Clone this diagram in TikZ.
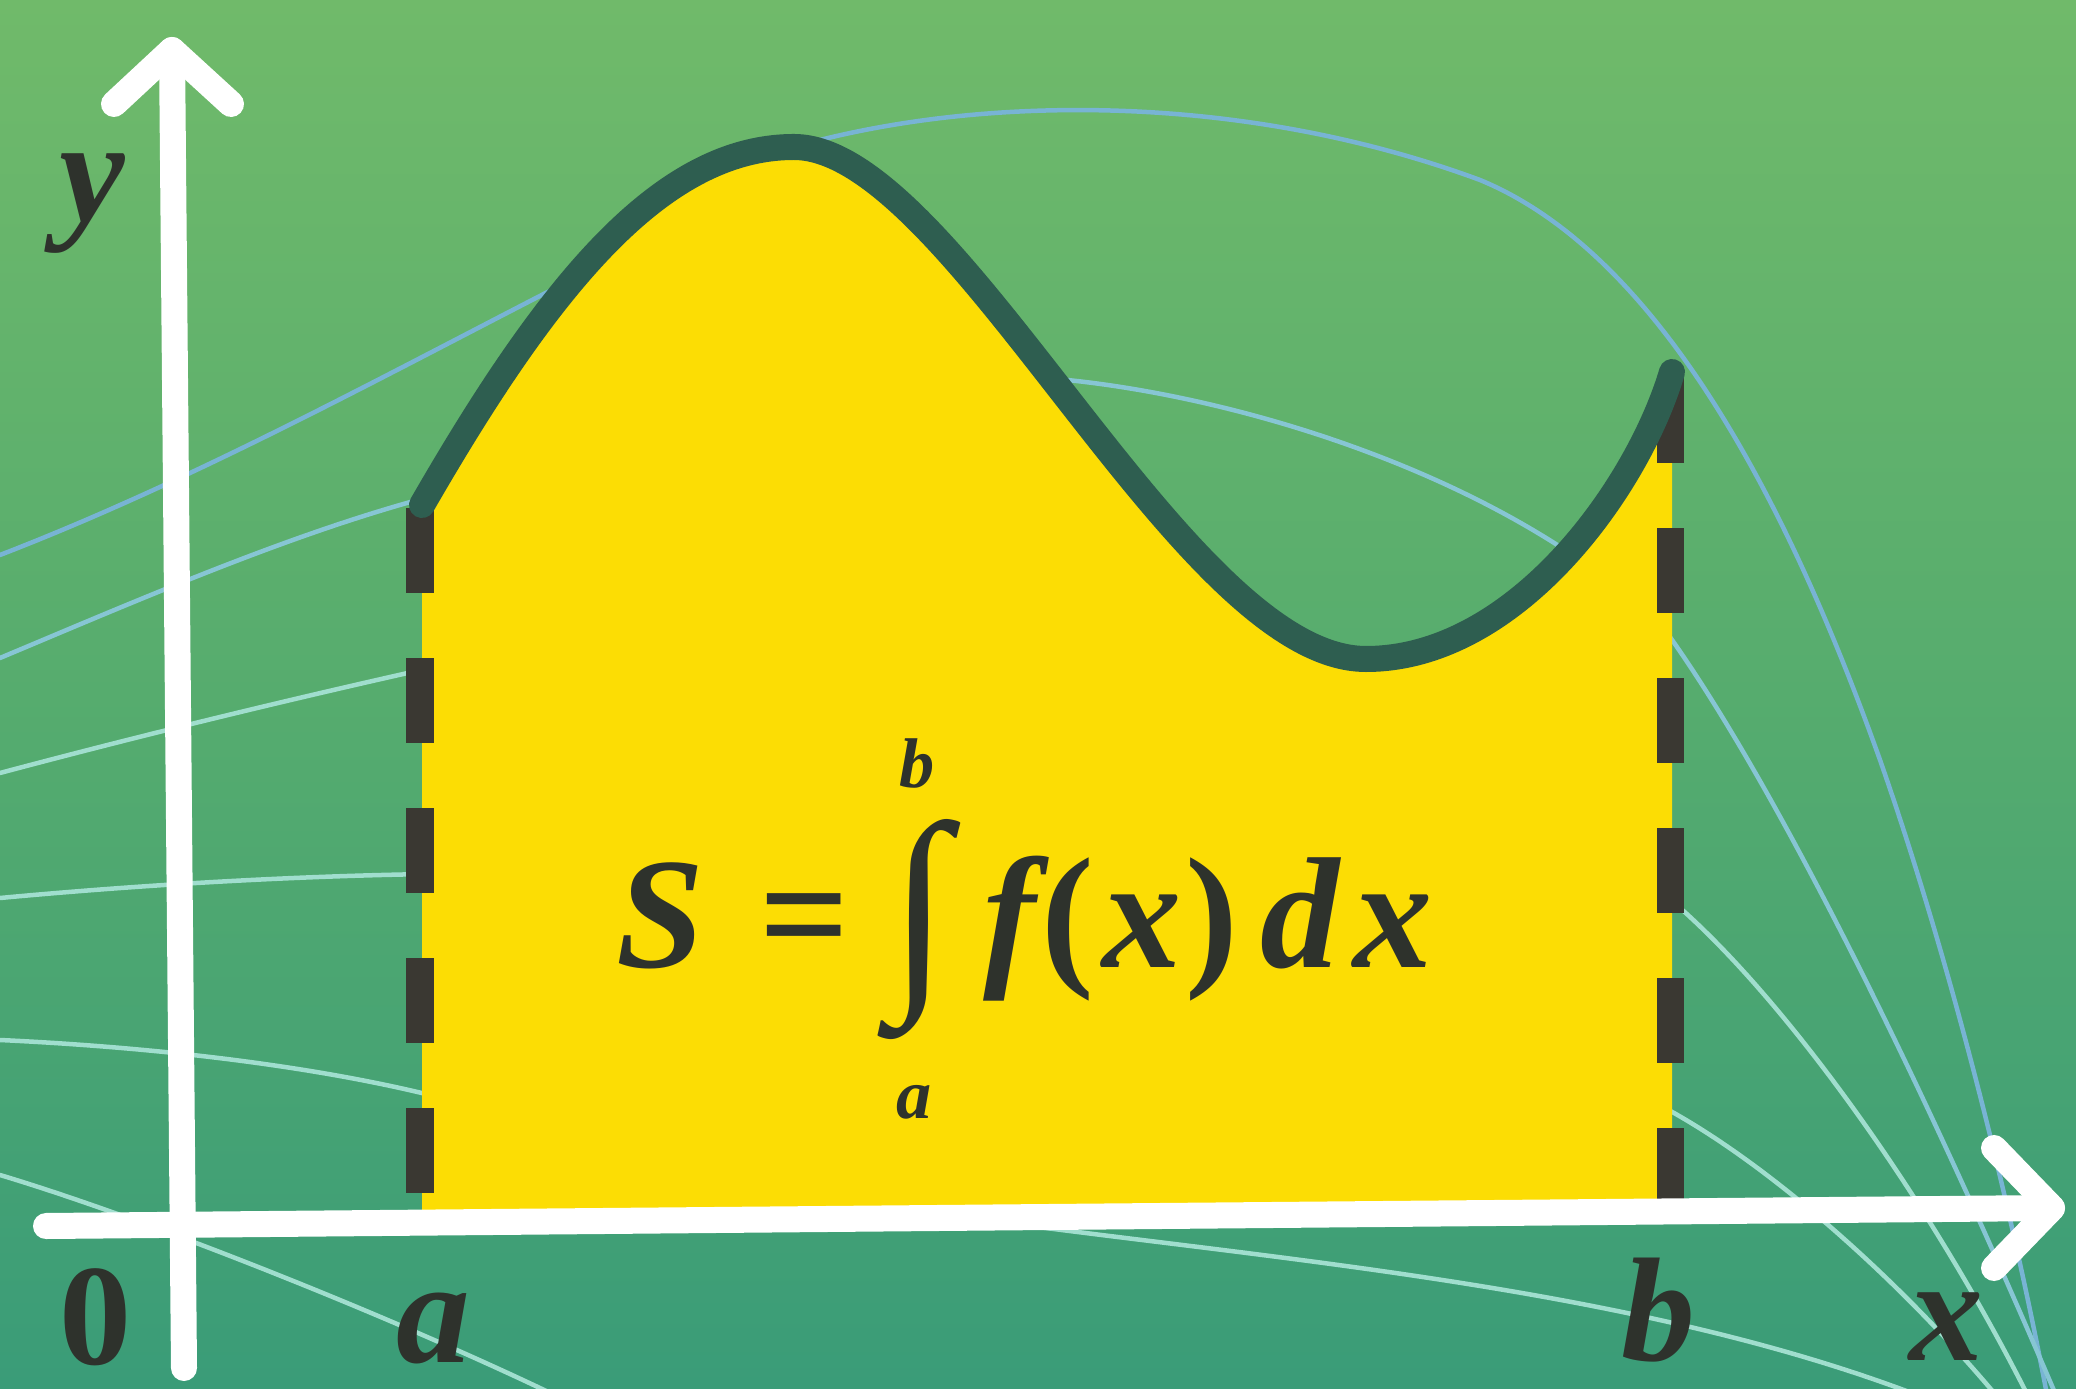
\documentclass[tikz,border=0pt]{standalone}
\usepackage{fontspec}
\setmainfont{Liberation Serif}
\usepackage{graphicx}
\definecolor{bgtop}{RGB}{112,186,106}
\definecolor{bgmid}{RGB}{86,172,110}
\definecolor{bgbot}{RGB}{58,156,120}
\definecolor{lineA}{RGB}{120,180,212}
\definecolor{lineB}{RGB}{135,198,212}
\definecolor{lineC}{RGB}{160,222,206}
\definecolor{areacol}{RGB}{252,221,4}
\definecolor{curvecol}{RGB}{46,94,80}
\definecolor{dashcol}{RGB}{58,56,50}
\definecolor{inkcol}{RGB}{46,50,44}
\tikzset{
  axisline/.style={line width=0.26cm, draw=white, line cap=round, line join=round},
  fcurve/.style={line width=0.26cm, draw=curvecol, line cap=round, line join=round},
  bounddash/.style={line width=0.27cm, draw=dashcol, dash pattern=on 0.85cm off 0.65cm},
  bgcurve/.style={line width=0.045cm, line cap=round},
  lab/.style={text=inkcol, font=\fontsize{42pt}{42pt}\selectfont\bfseries\itshape, inner sep=0pt, anchor=base},
  zerolab/.style={text=inkcol, font=\fontsize{41pt}{41pt}\selectfont\bfseries, inner sep=0pt, anchor=base},
  fml/.style={text=inkcol, font=\fontsize{45pt}{45pt}\selectfont\bfseries\itshape, inner sep=0pt, anchor=base},
  fmlup/.style={text=inkcol, font=\fontsize{45pt}{45pt}\selectfont\bfseries, inner sep=0pt, anchor=base},
  limlab/.style={text=inkcol, font=\fontsize{20pt}{20pt}\selectfont\bfseries\itshape, inner sep=0pt, anchor=base},
}
\begin{document}
\begin{tikzpicture}[x=0.01cm,y=-0.01cm]
\useasboundingbox (0,0) rectangle (2076,1389);
% background
\shade[top color=bgtop, bottom color=bgbot, middle color=bgmid] (0,0) rectangle (2076,1389);

% family of thin background curves (only their visible parts)
\draw[bgcurve, lineA] (0,555) .. controls (220,470) and (430,350) .. (640,245);
\draw[bgcurve, lineA] (820,140) .. controls (1000,95) and (1250,95) .. (1480,180)
   .. controls (1650,250) and (1780,480) .. (1880,760)
   .. controls (1950,960) and (2010,1200) .. (2048,1400);
\draw[bgcurve, lineB] (0,658) .. controls (150,595) and (300,530) .. (440,494);
\draw[bgcurve, lineB] (1045,378) .. controls (1200,390) and (1420,450) .. (1580,560);
\draw[bgcurve, lineB] (1665,630) .. controls (1780,790) and (1930,1100) .. (2058,1400);
\draw[bgcurve, lineC] (0,773) .. controls (150,733) and (300,697) .. (430,668);
\draw[bgcurve, lineC] (1665,895) .. controls (1780,990) and (1930,1200) .. (2030,1400);
\draw[bgcurve, lineC] (0,898) .. controls (150,884) and (300,876) .. (430,874);
\draw[bgcurve, lineC] (1665,1108) .. controls (1770,1165) and (1900,1280) .. (2000,1400);
\draw[bgcurve, lineC] (0,1040) .. controls (170,1048) and (320,1068) .. (430,1095);
\draw[bgcurve, lineC] (1000,1222) .. controls (1300,1262) and (1650,1290) .. (1930,1400);
\draw[bgcurve, lineC] (0,1175) .. controls (150,1220) and (400,1320) .. (565,1400);

% area under the curve
\fill[areacol] (422,505) .. controls (547,288) and (660,147) .. (794,147)
   .. controls (954,147) and (1182,659) .. (1366,659)
   .. controls (1516,659) and (1638,487) .. (1672,372)
   -- (1672,1212) -- (422,1220) -- cycle;

% boundaries x=a and x=b
\coordinate (atop) at (420,508);
\coordinate (abot) at (420,1205);
\coordinate (btop) at (1670,378);
\coordinate (bbot) at (1670,1200);
\draw[bounddash] (atop) -- (abot);
\draw[bounddash] (btop) -- (bbot);

% the graph of f
\coordinate (fstart) at (422,505);
\coordinate (fpeak) at (794,147);
\coordinate (fmin) at (1366,659);
\coordinate (fend) at (1672,372);
\draw[fcurve] (fstart) .. controls (547,288) and (660,147) .. (fpeak)
   .. controls (954,147) and (1182,659) .. (fmin)
   .. controls (1516,659) and (1638,487) .. (fend);

% axes
\coordinate (ytip) at (172,50);
\coordinate (ybot) at (184,1368);
\coordinate (yarmL) at (114,104);
\coordinate (yarmR) at (231,104);
\coordinate (xtip) at (2052,1208);
\coordinate (xleft) at (46,1226);
\coordinate (xarmU) at (1994,1148);
\coordinate (xarmD) at (1994,1268);
\draw[axisline] (ybot) -- (ytip);
\draw[axisline] (yarmL) -- (ytip) -- (yarmR);
\draw[axisline] (xleft) -- (xtip);
\draw[axisline] (xarmU) -- (xtip) -- (xarmD);

% axis labels
\node[lab] (ylab) at (92,222) {y};
\node[zerolab] (zlab) at (96,1364) {0};
\node[lab] (alab) at (433,1362) {a};
\node[lab] (blab) at (1658,1360) {b};
\node[lab] (xlab) at (1946,1360) {x};

% formula
\node[fml] (fS) at (660,968) {S};
\node[fmlup] (feq) at (805,968) {=};
\node[inner sep=0pt, text=inkcol] (fint) at (920,930) {\resizebox*{0.6cm}{2.2cm}{∫}};
\node[limlab] (fub) at (917,788) {b};
\node[limlab] (flb) at (914,1118) {a};
\node[fml] (ff) at (1010,968) {f};
\node[fmlup] (fpl) at (1068,968) {(};
\node[fml] (fx1) at (1142,968) {x};
\node[fmlup] (fpr) at (1212,968) {)};
\node[fml] (fd) at (1300,968) {d};
\node[fml] (fx2) at (1393,968) {x};
\end{tikzpicture}
\end{document}
